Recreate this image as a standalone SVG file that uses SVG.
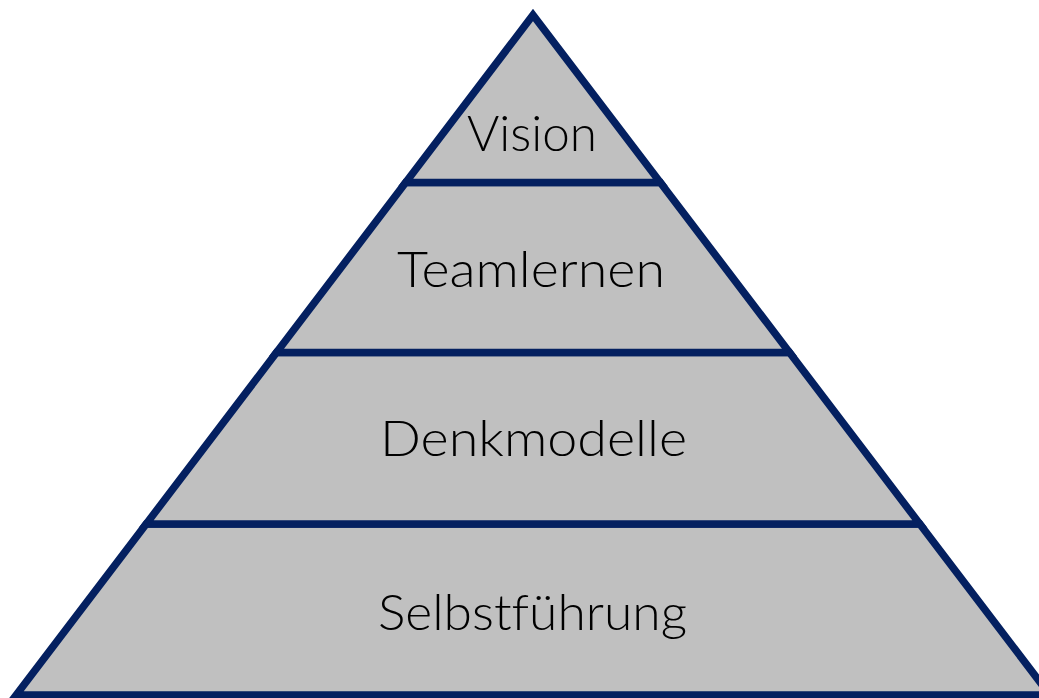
<svg xmlns="http://www.w3.org/2000/svg" width="1039" height="698" viewBox="0 0 1039 698">
<style>
.layer{fill:#c0c0c0;stroke:#042060;stroke-width:7.5;stroke-linejoin:miter;stroke-miterlimit:10}
.lbl{font-family:"Lato","DejaVu Sans","Liberation Sans",sans-serif;font-weight:300;font-size:49px;fill:#000;text-anchor:middle;font-variant-ligatures:none;font-feature-settings:"liga" 0,"clig" 0}
</style>
<rect width="1039" height="698" fill="#ffffff"/>
<g id="selbstfuehrung">
<polygon class="layer" points="146.2,524 919.8,524 1049.8,695 16.2,695"/>
<text class="lbl" x="532.5" y="630" textLength="309" lengthAdjust="spacingAndGlyphs">Selbstführung</text>
</g>
<g id="denkmodelle">
<polygon class="layer" points="276.5,352.5 789.5,352.5 919.8,524 146.2,524"/>
<text class="lbl" x="533.5" y="456" textLength="307" lengthAdjust="spacingAndGlyphs">Denkmodelle</text>
</g>
<g id="teamlernen">
<polygon class="layer" points="405.7,182.5 660.3,182.5 789.5,352.5 276.5,352.5"/>
<text class="lbl" x="531" y="287" textLength="268" lengthAdjust="spacingAndGlyphs">Teamlernen</text>
</g>
<g id="vision">
<polygon class="layer" points="533,15 660.3,182.5 405.7,182.5"/>
<text class="lbl" x="532" y="151" textLength="130" lengthAdjust="spacingAndGlyphs">Vision</text>
</g>
<g id="connectors"></g>
</svg>
